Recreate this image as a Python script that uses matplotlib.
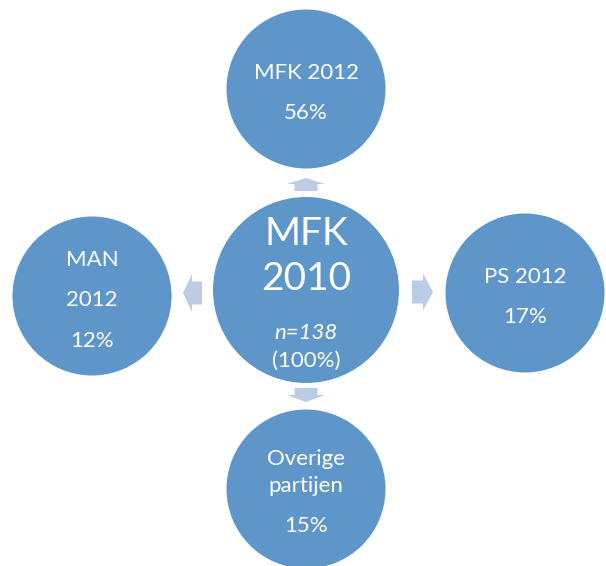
import matplotlib
matplotlib.use("Agg")
import matplotlib.pyplot as plt
from matplotlib.patches import Circle, Polygon

# ---- data ----
source_label = ["MFK", "2010"]
source_n = "n=138"
source_share = "(100%)"
target_labels = [["MFK 2012"], ["PS 2012"], ["Overige", "partijen"], ["MAN", "2012"]]
target_shares = [56, 17, 15, 12]

# ---- layout (pixel coordinates) ----
W, H = 606, 566
FILL = "#5F96C9"
ARROW = "#BACDE4"
FONT = ["Lato", "DejaVu Sans"]

fig = plt.figure(figsize=(W / 100, H / 100), dpi=100)
ax = fig.add_axes([0, 0, 1, 1])
ax.set_xlim(0, W)
ax.set_ylim(H, 0)
ax.set_aspect("equal")
ax.axis("off")

center = (306, 290)
ax.add_patch(Circle(center, 93, facecolor=FILL, edgecolor="none"))

target_pos = [(306, 89), (525, 293), (306, 489), (92, 296)]
for (x, y) in target_pos:
    ax.add_patch(Circle((x, y), 79.5, facecolor=FILL, edgecolor="none"))

# arrows: (direction, tip position)
def arrow(cx, cy, d, length=14, shaft_w=23, head_w=38, head_len=6):
    # arrow pointing in direction d from base at cy; build in local coords
    pts_local = [(-shaft_w / 2, 0), (shaft_w / 2, 0), (shaft_w / 2, length - head_len),
                 (head_w / 2, length - head_len), (0, length), (-head_w / 2, length - head_len),
                 (-shaft_w / 2, length - head_len)]
    dx, dy = d
    pts = []
    for (u, v) in pts_local:
        # v along direction, u perpendicular
        px = cx + v * dx + u * (-dy)
        py = cy + v * dy + u * dx
        pts.append((px, py))
    ax.add_patch(Polygon(pts, closed=True, facecolor=ARROW, edgecolor="none"))

arrow(306, 191, (0, -1), length=13, head_len=6)
arrow(306, 388, (0, 1), length=14, head_len=7)
arrow(202, 293, (-1, 0), length=19, shaft_w=23, head_w=38, head_len=9)
arrow(412, 292, (1, 0), length=21, shaft_w=23, head_w=37, head_len=10)

txt = dict(color="white", ha="center", va="baseline", family=FONT)

# center text
ax.text(306, 245, source_label[0], fontsize=28, **txt)
ax.text(306, 290, source_label[1], fontsize=28, **txt)
ax.text(306, 339, source_n, fontsize=16, style="italic", **txt)
ax.text(306, 367, source_share, fontsize=16, **txt)

# targets
line_baselines = [
    [79, 119],
    [283, 323],
    [465, 492, 532],
    [266, 306, 347],
]
for lbls, share, (x, y), bls in zip(target_labels, target_shares, target_pos, line_baselines):
    lines = lbls + [f"{share}%"]
    for line, b in zip(lines, bls):
        ax.text(x, b, line, fontsize=16, **txt)

fig.savefig("out.png", dpi=100, facecolor="white")
